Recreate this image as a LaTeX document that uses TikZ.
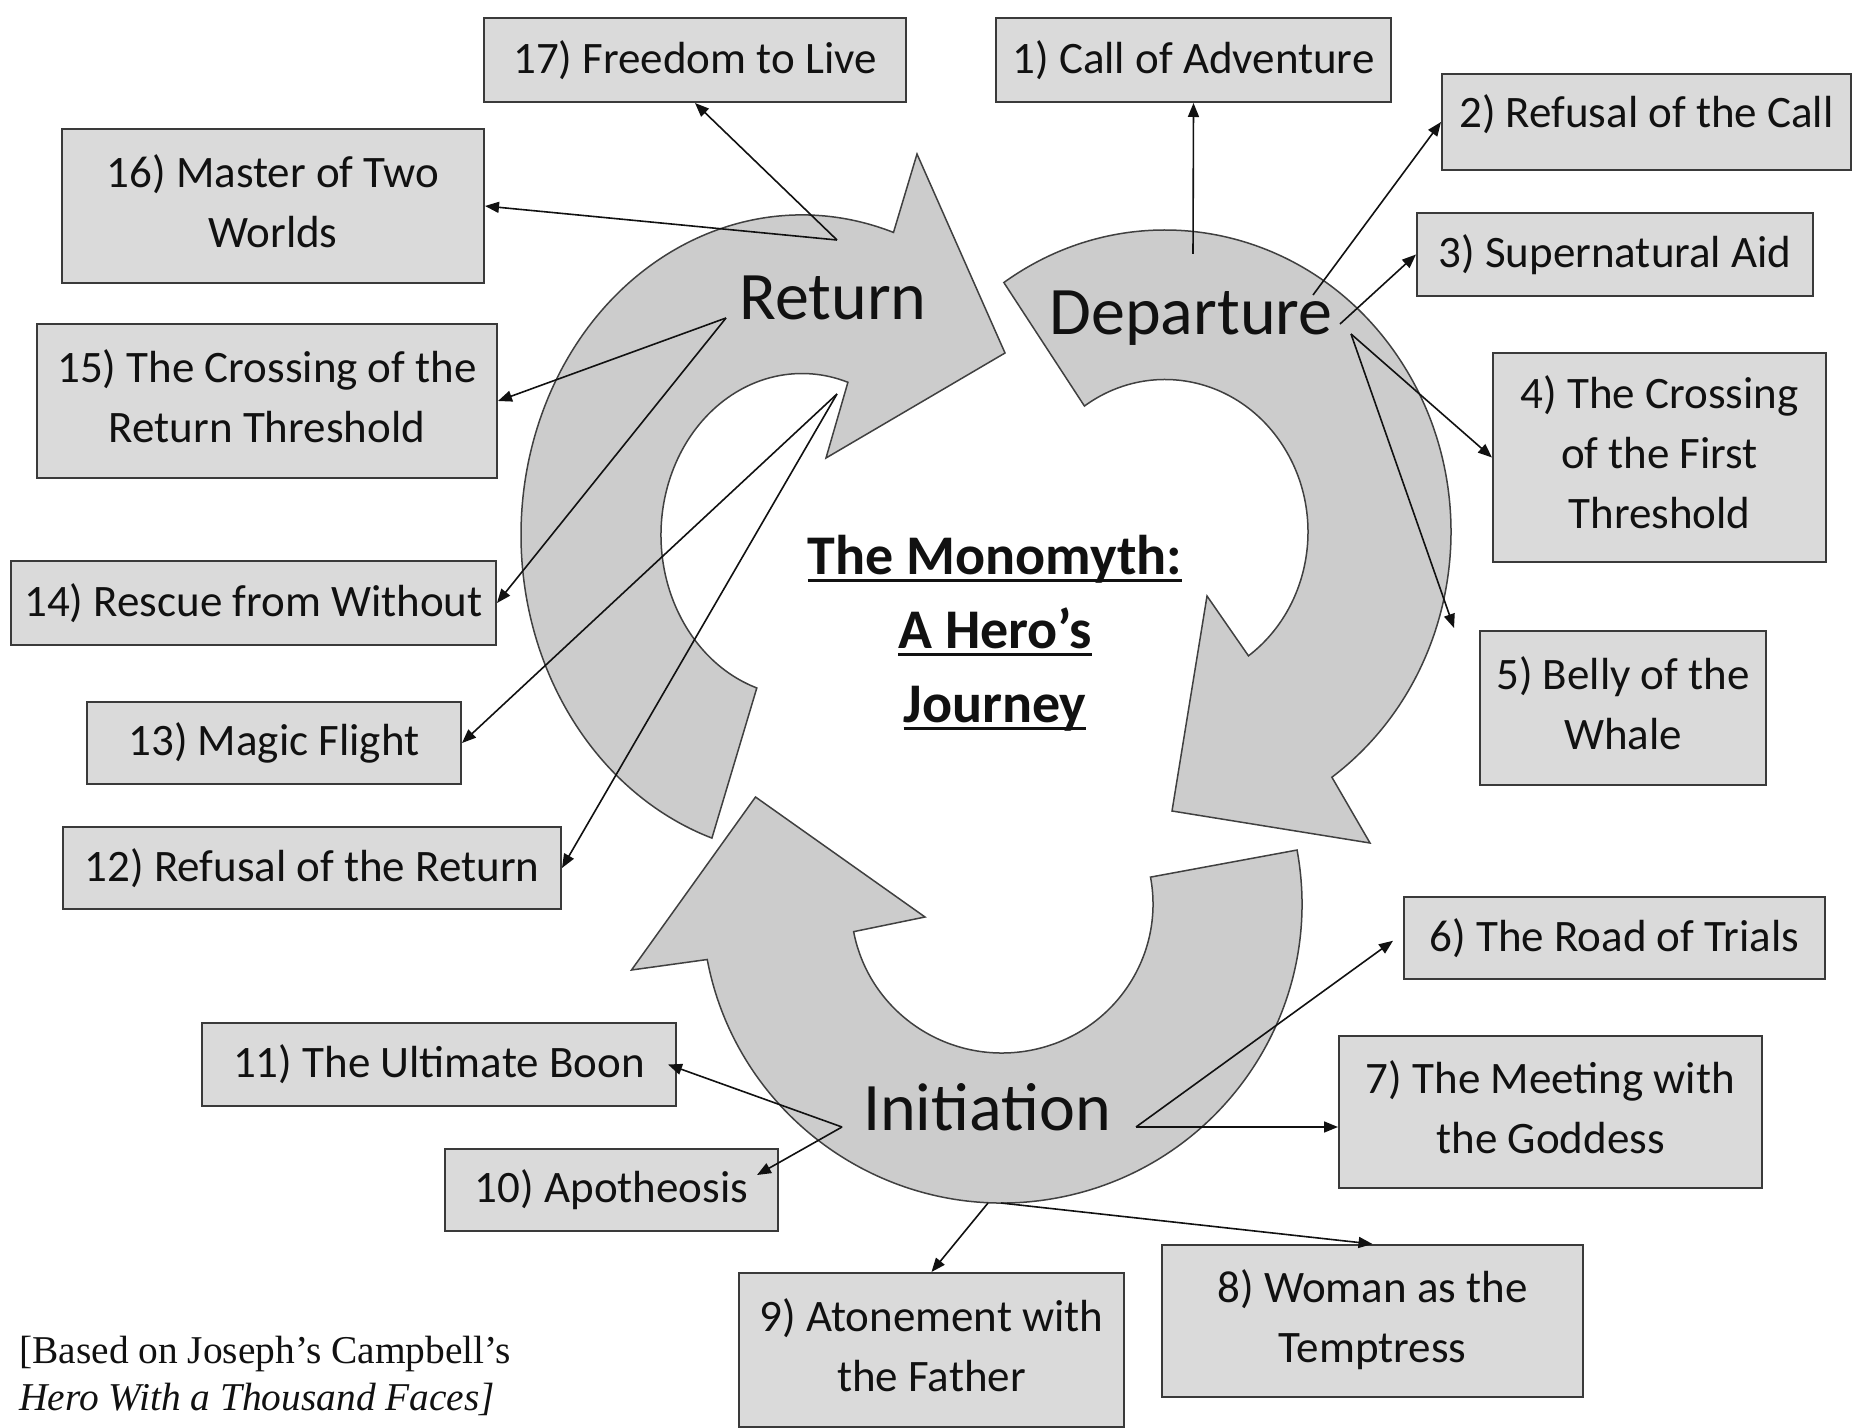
\documentclass[tikz,border=0pt]{standalone}
\usepackage{fontspec}
\setmainfont{Carlito}
\newfontfamily\notefont{Liberation Serif}
\usetikzlibrary{calc,arrows.meta}
\definecolor{boxfill}{HTML}{DADADA}
\definecolor{boxline}{HTML}{3A3A3A}
\definecolor{bandfill}{HTML}{CCCCCC}
\definecolor{bandline}{HTML}{404040}
\definecolor{ink}{HTML}{111111}
% underline at a fixed depth below the baseline
\newcommand\titleline[1]{\setbox0\hbox{#1}\rlap{\rule[-4pt]{\wd0}{1.5pt}}\box0}
\begin{document}
\begin{tikzpicture}[x=0.5pt,y=-0.5pt,
  stage/.style={draw=boxline, fill=boxfill, line width=1pt, align=center, inner sep=0pt,
    font=\fontsize{22.5}{30}\selectfont, text=ink},
  multi/.style={text depth=5pt},
  boxdim/.style 2 args={minimum width=#1*0.5pt, minimum height=#2*0.5pt},
  band/.style={draw=bandline, fill=bandfill, line width=0.75pt, line join=miter},
  phase/.style={font=\fontsize{34}{40}\selectfont, anchor=base, text=ink, inner sep=0pt},
  link/.style={draw=ink, line width=0.8pt, -{Triangle[length=7pt,width=5.5pt]}}]
\useasboundingbox (0,0) rectangle (1852,1428);
\fill[white] (0,0) rectangle (1852,1428);

% ---- the three curved block arrows ----
\coordinate (cR) at (802,535);
\filldraw[band] ($(cR)+(108.7:281 and 320)$) -- ($(cR)+(108.7:141 and 161.5)$)
  arc[start angle=108.7, end angle=289, x radius=141, y radius=161.5]
  -- (826,458) -- (1005,353) -- (917,154)
  -- ($(cR)+(289:281 and 320)$)
  arc[start angle=289, end angle=108.7, x radius=281, y radius=320] -- cycle;

\coordinate (cD) at (1165,532);
\filldraw[band] ($(cD)+(-124.3:286 and 302)$) -- ($(cD)+(-124.3:143 and 152.5)$)
  arc[start angle=-124.3, end angle=54.3, x radius=143, y radius=152.5]
  -- (1207,596) -- (1172,811) -- (1370,843)
  -- ($(cD)+(54.3:286 and 302)$)
  arc[start angle=54.3, end angle=-124.3, x radius=286, y radius=302] -- cycle;

\coordinate (cI) at (1002,904);
\filldraw[band] ($(cI)+(-10.4:300 and 299)$) -- ($(cI)+(-10.4:151 and 149)$)
  arc[start angle=-10.4, end angle=169.3, x radius=151, y radius=149]
  -- (925,917) -- (755.5,797) -- (631.5,970)
  -- ($(cI)+(169.3:300 and 299)$)
  arc[start angle=169.3, end angle=-10.4, x radius=300, y radius=299] -- cycle;

\node[phase] (return) at (833,320) {Return};
\node[phase] (departure) at (1191,335) {Departure};
\node[phase] (initiation) at (987,1130) {Initiation};

% ---- title ----
\node[align=center, text=ink, inner sep=0pt, font=\fontsize{28}{37}\selectfont\bfseries]
  (title) at (995,633) {\titleline{The Monomyth:}\\\titleline{A Hero’s}\\\titleline{Journey}};

% ---- stage boxes ----
\node[stage, boxdim={395}{84}]  (b1)  at (1193.5,60)   {1) Call of Adventure};
\node[stage, boxdim={409}{96}, text depth=11pt] (b2) at (1646.5,122) {2) Refusal of the Call};
\node[stage, boxdim={396}{83}]  (b3)  at (1615,254.5)  {3) Supernatural Aid};
\node[stage, multi, boxdim={333}{209}] (b4) at (1659.5,457.5){4) The Crossing\\of the First\\Threshold};
\node[stage, multi, boxdim={286}{154}] (b5) at (1623,708)    {5) Belly of the\\Whale};
\node[stage, boxdim={421}{82.5}](b6)  at (1614.5,937.75){6) The Road of Trials};
\node[stage, multi, boxdim={423}{152}] (b7) at (1550.5,1112) {7) The Meeting with\\the Goddess};
\node[stage, multi, boxdim={421}{152}] (b8) at (1372.5,1321) {8) Woman as the\\Temptress};
\node[stage, multi, boxdim={385}{154}] (b9) at (931.5,1350)  {9) Atonement with\\the Father};
\node[stage, boxdim={333}{82}]  (b10) at (611.5,1190)  {10) Apotheosis};
\node[stage, boxdim={474}{83}]  (b11) at (439,1064.5)  {11) The Ultimate Boon};
\node[stage, boxdim={498}{82}]  (b12) at (312,868)     {12) Refusal of the Return};
\node[stage, boxdim={374}{82}]  (b13) at (274,743)     {13) Magic Flight};
\node[stage, boxdim={485}{84}]  (b14) at (253.5,603)   {14) Rescue from Without};
\node[stage, multi, boxdim={460}{154}] (b15) at (267,401)     {15) The Crossing of the\\Return Threshold};
\node[stage, multi, boxdim={422}{154}] (b16) at (273,206)     {16) Master of Two\\Worlds};
\node[stage, boxdim={422}{84}]  (b17) at (695,60)      {17) Freedom to Live};

% ---- source note ----
\node[anchor=north west, align=left, inner sep=0pt, text=ink,
  font=\notefont\fontsize{19.7}{23.5}\selectfont] (note) at (19,1336)
  {[Based on Joseph’s Campbell’s\\\textit{Hero With a Thousand Faces]}};

% ---- connectors ----
\coordinate (s1) at (1193,254);
\coordinate (s2) at (1313,295);
\coordinate (s3) at (1340,324);
\coordinate (s45) at (1351,334);
\coordinate (s67) at (1136,1127);
\coordinate (s8) at (1001,1203);
\coordinate (s9) at (988,1203);
\coordinate (s1011) at (842,1127);
\coordinate (s1213) at (837,394);
\coordinate (s1415) at (726,318);
\coordinate (s1617) at (837,240);

\draw[link] (s1) -- (b1.south);
\draw[link] (s2) -- (b2.west);
\draw[link] (s3) -- (b3.west);
\draw[link] (s45) -- (b4.west);
\draw[link] (s45) -- ($(b5.north west)+(-25,-2)$);
\draw[link] (s67) -- ($(b6.west)+(-10,3)$);
\draw[link] (s67) -- (s67 -| b7.west);
\draw[link] (s8) -- (b8.north);
\draw[link] (s9) -- (b9.north);
\draw[link] (s1011) -- ($(b10.north east)+(-22,27)$);
\draw[link] (s1011) -- ($(b11.east)+(-9,0)$);
\draw[link] (s1213) -- (b12.east);
\draw[link] (s1213) -- (b13.east);
\draw[link] (s1415) -- (b14.east);
\draw[link] (s1415) -- (b15.east);
\draw[link] (s1617) -- (b16.east);
\draw[link] (s1617) -- (b17.south);
\end{tikzpicture}
\end{document}
